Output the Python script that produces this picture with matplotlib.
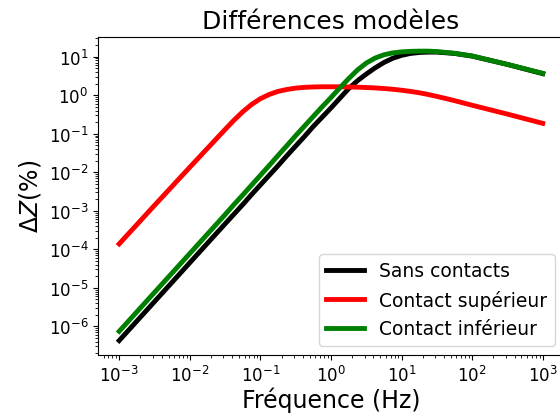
import matplotlib
matplotlib.use('Agg')
import matplotlib.pyplot as plt
import numpy as np

# fréquences (log10 Hz) et valeurs (log10 %)
log_freq = [-3.0, -2.5, -2.0, -1.5, -1.375, -1.25, -1.125, -1.0, -0.875, -0.75,
            -0.625, -0.5, -0.375, -0.25, -0.125, 0.0, 0.125, 0.25, 0.375, 0.5,
            0.625, 0.75, 0.875, 1.0, 1.125, 1.25, 1.375, 1.5, 1.75, 2.0, 2.5, 3.0]

log_sans = [-6.37, -5.36, -4.35, -3.34, -3.09, -2.84, -2.58, -2.33, -2.08, -1.83,
            -1.57, -1.32, -1.07, -0.81, -0.57, -0.33, -0.08, 0.17, 0.375, 0.55,
            0.71, 0.85, 0.96, 1.035, 1.085, 1.11, 1.12, 1.12, 1.085, 1.015, 0.80, 0.56]
log_sup = [-3.86, -2.86, -1.87, -0.89, -0.65, -0.43, -0.24, -0.09, 0.02, 0.10,
           0.15, 0.185, 0.205, 0.215, 0.22, 0.22, 0.22, 0.215, 0.21, 0.20,
           0.19, 0.175, 0.155, 0.13, 0.10, 0.065, 0.02, -0.03, -0.14, -0.26, -0.49, -0.73]
log_inf = [-6.13, -5.12, -4.11, -3.10, -2.84, -2.59, -2.335, -2.08, -1.825, -1.565,
           -1.31, -1.05, -0.80, -0.55, -0.30, -0.06, 0.19, 0.43, 0.655, 0.835,
           0.965, 1.05, 1.10, 1.125, 1.14, 1.145, 1.145, 1.135, 1.09, 1.02, 0.80, 0.57]

freq = 10 ** np.array(log_freq)
sans = 10 ** np.array(log_sans)
sup = 10 ** np.array(log_sup)
inf = 10 ** np.array(log_inf)

fig = plt.figure(figsize=(5.6, 4.14), dpi=100)
ax = fig.add_axes([0.175, 0.140, 0.832, 0.769])

ax.loglog(freq, sans, color='black', linewidth=3.5, label='Sans contacts')
ax.loglog(freq, sup, color='red', linewidth=3.5, label='Contact supérieur')
ax.loglog(freq, inf, color='green', linewidth=3.5, label='Contact inférieur')

ax.set_title('Différences modèles', fontsize=18)
ax.set_xlabel('Fréquence (Hz)', fontsize=17, labelpad=1)
ax.set_ylabel(r'$\Delta Z (\%)$', fontsize=17)
ax.tick_params(labelsize=12)
ax.legend(loc='lower right', fontsize=13.5)

fig.savefig('out.png', dpi=100)
